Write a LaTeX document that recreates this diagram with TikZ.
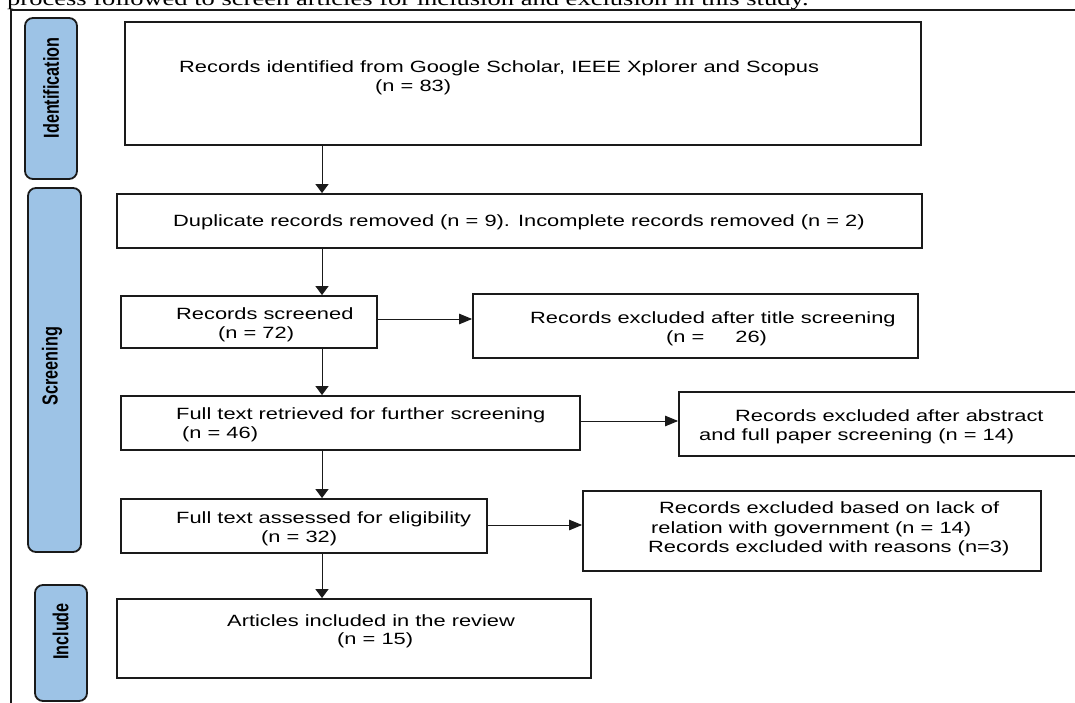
\documentclass[tikz,border=0pt]{standalone}
\usepackage{fontspec}
\setmainfont{Liberation Serif}
\newfontfamily\boxfont[FakeStretch=1.34]{Liberation Sans}
\newfontfamily\barfont{Liberation Sans}
\newfontfamily\topfont[FakeStretch=1.34]{Liberation Serif}
\usetikzlibrary{arrows.meta}
\definecolor{barblue}{HTML}{9DC3E6}
\definecolor{ink}{HTML}{1A1A1A}
\tikzset{
  box/.style={draw=ink, line width=1.8pt, fill=white, inner sep=0pt, rectangle},
  bar/.style={draw=ink, line width=1.8pt, fill=barblue, rounded corners=8pt, inner sep=0pt, rectangle},
  txt/.style={anchor=base west, inner sep=0pt, text=black, font=\boxfont\fontsize{16.3}{19.5}\selectfont},
  barlabel/.style={inner sep=0pt, text=black, font=\barfont\bfseries\fontsize{16.2}{18}\selectfont},
  varr/.style={draw=ink, line width=1pt, -{Triangle[length=9pt,width=13pt]}},
  harr/.style={draw=ink, line width=1pt, -{Triangle[length=13pt,width=10.5pt]}},
  frame/.style={draw=ink, line width=1.6pt},
}
\begin{document}
\begin{tikzpicture}[x=1pt,y=-1pt]
\useasboundingbox (0,0) rectangle (1075,703);
\clip (0,0) rectangle (1075,703);
\fill[white] (0,0) rectangle (1075,703);

% clipped caption line from the page
\node[anchor=base west, inner sep=0pt, font=\topfont\fontsize{19.8}{22}\selectfont] (cap) at (7,5.5)
  {process followed to screen articles for inclusion and exclusion in this study.};

% page frame
\coordinate (fa) at (1085,10);
\coordinate (fb) at (11,10);
\coordinate (fc) at (11,712);
\draw[frame] (fa) -- (fb) -- (fc);

% phase bars
\node[bar, minimum width=52pt, minimum height=161pt] (bid) at (51,98.5) {};
\node[bar, minimum width=53pt, minimum height=364pt] (bsc) at (54.5,370) {};
\node[bar, minimum width=52pt, minimum height=116pt] (binc) at (61,643) {};
\node[barlabel] (lid) at (51,88) {\rotatebox{90}{\scalebox{1}[1.34]{Identification}}};
\node[barlabel] (lsc) at (52,366) {\rotatebox{90}{\scalebox{1}[1.34]{Screening}}};
\node[barlabel] (linc) at (60.5,631.5) {\rotatebox{90}{\scalebox{1}[1.34]{Include}}};

% boxes
\node[box, minimum width=796pt, minimum height=123pt] (b1) at (523,83.5) {};
\node[box, minimum width=805pt, minimum height=54pt] (b2) at (519.5,221) {};
\node[box, minimum width=256pt, minimum height=52pt] (b3) at (249,322) {};
\node[box, minimum width=445pt, minimum height=64pt] (b4) at (695.5,326) {};
\node[box, minimum width=459pt, minimum height=54pt] (b5) at (350.5,423) {};
\node[box, minimum width=406pt, minimum height=64pt] (b6) at (882,424) {};
\node[box, minimum width=366pt, minimum height=54pt] (b7) at (304,526) {};
\node[box, minimum width=458pt, minimum height=80pt] (b8) at (812,531) {};
\node[box, minimum width=474pt, minimum height=79pt] (b9) at (354,638.5) {};

% texts
\node[txt] (t1a) at (179,73) {Records identified from Google Scholar, IEEE Xplorer and Scopus};
\node[txt] (t1b) at (375,92) {(n = 83)};
\node[txt] (t2) at (173,227) {Duplicate records removed (n = 9). Incomplete records removed (n = 2)};
\node[txt] (t3a) at (176,319) {Records screened};
\node[txt] (t3b) at (218,338) {(n = 72)};
\node[txt] (t4a) at (530,323) {Records excluded after title screening};
\node[txt] (t4b) at (666,342) {(n =\hspace{31pt}26)};
\node[txt] (t5a) at (176,419) {Full text retrieved for further screening};
\node[txt] (t5b) at (182,438) {(n = 46)};
\node[txt] (t6a) at (735,421) {Records excluded after abstract};
\node[txt] (t6b) at (699,440) {and full paper screening (n = 14)};
\node[txt] (t7a) at (176,523) {Full text assessed for eligibility};
\node[txt] (t7b) at (261,542) {(n = 32)};
\node[txt] (t8a) at (659,513) {Records excluded based on lack of};
\node[txt] (t8b) at (651,533) {relation with government (n = 14)};
\node[txt] (t8c) at (648,552) {Records excluded with reasons (n=3)};
\node[txt] (t9a) at (227,626) {Articles included in the review};
\node[txt] (t9b) at (337,644) {(n = 15)};

% connectors
\coordinate (col) at (322,0);
\coordinate (r3) at (0,319);
\coordinate (r5) at (0,421);
\coordinate (r7) at (0,525);
\draw[varr] (b1.south -| col) -- (b2.north -| col);
\draw[varr] (b2.south -| col) -- (b3.north -| col);
\draw[varr] (b3.south -| col) -- (b5.north -| col);
\draw[varr] (b5.south -| col) -- (b7.north -| col);
\draw[varr] (b7.south -| col) -- (b9.north -| col);
\draw[harr] (b3.east |- r3) -- (b4.west |- r3);
\draw[harr] (b5.east |- r5) -- (b6.west |- r5);
\draw[harr] (b7.east |- r7) -- (b8.west |- r7);
\end{tikzpicture}
\end{document}
